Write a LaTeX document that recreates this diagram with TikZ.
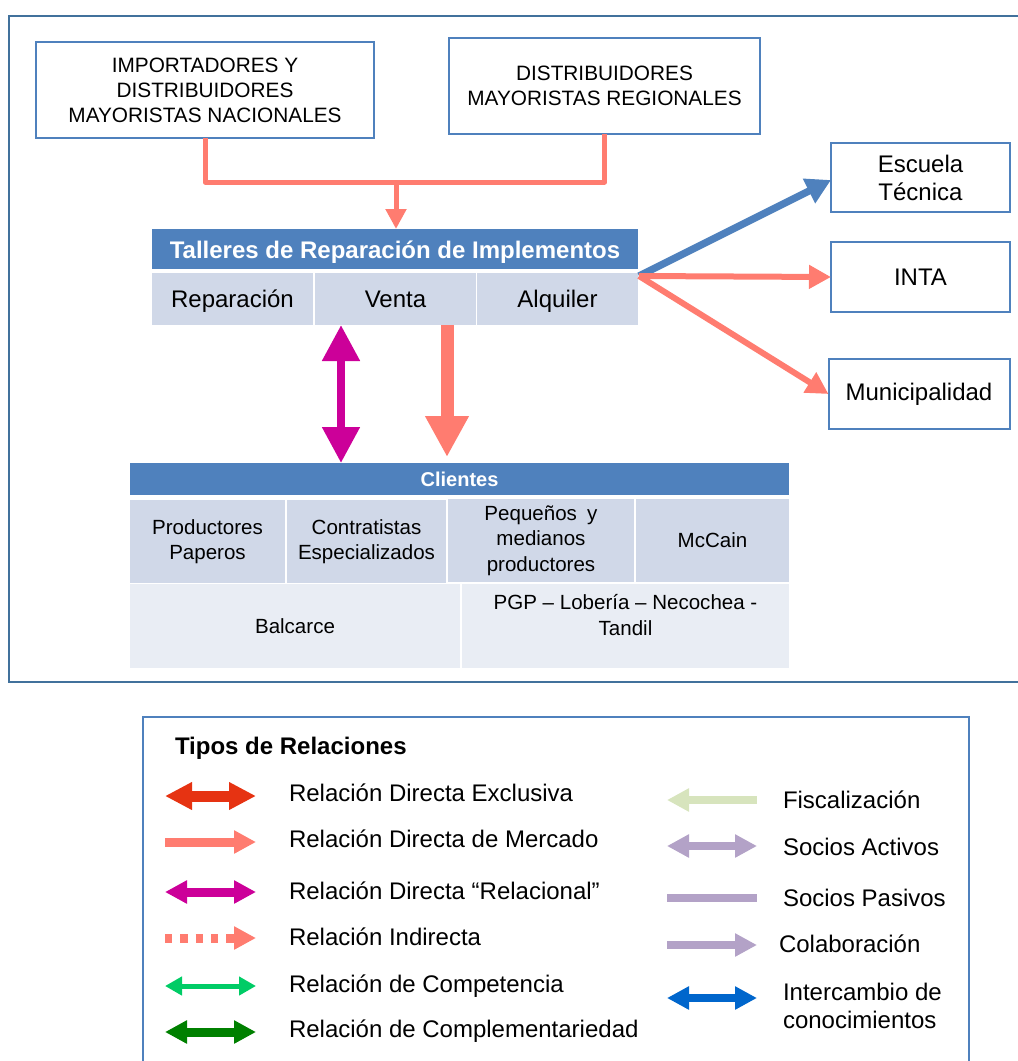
\documentclass[tikz,border=0pt]{standalone}
\usepackage{fontspec}
\setmainfont{Liberation Sans}
\usetikzlibrary{arrows.meta,calc}
\definecolor{ablue}{HTML}{4F81BD}
\definecolor{frameblue}{HTML}{41719C}
\definecolor{salmon}{HTML}{FF7C70}
\definecolor{magen}{HTML}{CC0099}
\definecolor{rowA}{HTML}{D0D8E8}
\definecolor{rowB}{HTML}{E9EDF4}
\definecolor{exred}{HTML}{E63312}
\definecolor{compgreen}{HTML}{00CC66}
\definecolor{darkgreen}{HTML}{008000}
\definecolor{fisgreen}{HTML}{D7E4BD}
\definecolor{lilac}{HTML}{B3A2C7}
\definecolor{kblue}{HTML}{0066CC}
\tikzset{
  ltip/.tip={Triangle[length=16.5pt,width=16.5pt]},
  etip/.tip={Triangle[length=20.25pt,width=19.5pt]},
  gtip/.tip={Triangle[length=12.75pt,width=13.5pt]},
  ctip/.tip={Triangle[length=15pt,width=15pt]},
  ftip/.tip={Triangle[length=16.5pt,width=17pt]},
  fbtip/.tip={Triangle[length=18.5pt,width=19.5pt]},
  mtip/.tip={Triangle[length=27pt,width=27pt]},
  btip/.tip={Triangle[length=30.75pt,width=30.75pt]},
}
\begin{document}
\begin{tikzpicture}[x=0.75pt,y=-0.75pt,
  every node/.style={inner sep=0pt, outer sep=0pt},
  obox/.style={draw=ablue, line width=1.5pt, fill=white, align=center, font=\fontsize{15.6}{18.75}\selectfont},
  rbox/.style={draw=ablue, line width=1.5pt, fill=white, align=center, font=\fontsize{18}{21}\selectfont},
  headbar/.style={fill=ablue, text=white, font=\bfseries\fontsize{18}{21}\selectfont, text height=15pt, text depth=1.5pt},
  cheadbar/.style={fill=ablue, text=white, font=\bfseries\fontsize{15}{18}\selectfont},
  tcell/.style={fill=rowA, align=center, font=\fontsize{18}{21}\selectfont, minimum width=120.75pt, minimum height=39pt, text height=15pt, text depth=3pt},
  ccell/.style={fill=rowA, align=center, font=\fontsize{15.4}{19.1}\selectfont, minimum height=62.25pt},
  dcell/.style={fill=rowB, align=center, font=\fontsize{15.4}{19.1}\selectfont, minimum height=63pt},
  ltext/.style={anchor=base west, font=\fontsize{18}{21}\selectfont, align=left},
  conn/.style={draw=salmon, line width=3.75pt, line join=round},
  connarrow/.style={draw=salmon, line width=3.75pt, -{ctip}},
  fanblue/.style={draw=ablue, line width=5.5pt, -{fbtip}},
  fansal/.style={draw=salmon, line width=4.5pt, -{ftip}},
  magarrow/.style={draw=magen, line width=6pt, {mtip}-{mtip}},
  bigsal/.style={draw=salmon, line width=9.75pt, -{btip}},
]
\useasboundingbox (0,0) rectangle (1018,1061);
\clip (0,0) rectangle (1018,1061);

% outer frame
\draw[frameblue, line width=1.9pt] (9,16) rectangle (1040,682);

% top boxes
\node[obox, minimum width=253.5pt, minimum height=72pt] (imp) at (205,90)
  {IMPORTADORES Y\\DISTRIBUIDORES\\MAYORISTAS NACIONALES};
\node[obox, minimum width=233.25pt, minimum height=72pt] (dist) at (604.5,86)
  {DISTRIBUIDORES\\MAYORISTAS REGIONALES};

% Talleres table
\node[headbar, minimum width=364.5pt, minimum height=30pt] (tal) at (395,249)
  {Talleres de Reparación de Implementos};
\node[tcell] (rep) at (232.5,299) {Reparación};
\node[tcell] (ven) at (395.5,299) {Venta};
\node[tcell] (alq) at (557.5,299) {Alquiler};

% right boxes
\node[rbox, minimum width=134.25pt, minimum height=51.75pt] (esc) at (920.5,177.5) {Escuela\\Técnica};
\node[rbox, minimum width=134.25pt, minimum height=52.5pt] (inta) at (920.5,277) {INTA};
\node[rbox, minimum width=135.75pt, minimum height=52.5pt] (muni) at (919,394) {Municipalidad};

% Clientes table
\node[cheadbar, minimum width=494.25pt, minimum height=24pt] (cli) at (459.5,479) {Clientes};
\node[ccell, minimum width=116.25pt] (c1) at (207.5,541.5) {Productores\\Paperos};
\node[ccell, minimum width=119.25pt] (c2) at (366.5,541.5) {Contratistas\\Especializados};
\node[ccell, minimum width=139.5pt] (c3) at (541,540.5) {Pequeños\enspace y\\medianos\\productores};
\node[ccell, minimum width=114.75pt] (c4) at (712.5,540.5) {McCain};
\node[dcell, minimum width=247.5pt] (r1) at (295,626) {Balcarce};
\node[dcell, minimum width=245.25pt] (r2) at (625.5,626) {};
\node[align=center, font=\fontsize{15.4}{19.1}\selectfont] (r2t) at (625.5,615) {PGP – Lobería – Necochea -\\Tandil};

% top connector
\coordinate (j) at (396,182);
\draw[conn] (imp.south) -- ++(0,44) -| (dist.south);
\draw[connarrow] (j) -- (j |- tal.north);

% fan arrows
\coordinate (fan) at ($(alq.north east)+(1,3)$);
\draw[fanblue] (fan) -- ($(esc.west)+(0,2.5)$);
\draw[fansal] (fan) -- (inta.west);
\draw[fansal] (fan) -- (muni.west);

% vertical arrows
\coordinate (xm) at (341,0);
\coordinate (xs) at (447,0);
\draw[magarrow] (ven.south -| xm) -- (cli.north -| xm);
\draw[bigsal] (ven.south -| xs) -- ($(cli.north -| xs)+(0,-6)$);

% legend box
\draw[ablue, line width=1.5pt] (143,717) rectangle (969,1080);
\node[anchor=base west, font=\bfseries\fontsize{18}{21}\selectfont] (ltitle) at (175,754) {Tipos de Relaciones};

% legend left column
\coordinate (a1) at (165,796); \coordinate (b1) at (256,796);
\coordinate (a2) at (165,842); \coordinate (b2) at (256,842);
\coordinate (a3) at (165,892); \coordinate (b3) at (256,892);
\coordinate (a4) at (165,938); \coordinate (b4) at (256,938);
\coordinate (a5) at (165,986); \coordinate (b5) at (256,986);
\coordinate (a6) at (165,1032); \coordinate (b6) at (256,1032);
\draw[exred, line width=8.25pt, {etip}-{etip}] (a1) -- (b1);
\draw[salmon, line width=6.75pt, -{ltip}] (a2) -- (b2);
\draw[magen, line width=6.75pt, {ltip}-{ltip}] (a3) -- (b3);
\draw[salmon, line width=6.75pt, dash pattern=on 5.5pt off 6pt, -{ltip}] (a4) -- (b4);
\draw[compgreen, line width=3.75pt, {gtip}-{gtip}] (a5) -- (b5);
\draw[darkgreen, line width=6.75pt, {ltip}-{ltip}] (a6) -- (b6);

\node[ltext] (t1) at (289,801) {Relación Directa Exclusiva};
\node[ltext] (t2) at (289,847) {Relación Directa de Mercado};
\node[ltext] (t3) at (289,899) {Relación Directa “Relacional”};
\node[ltext] (t4) at (289,945) {Relación Indirecta};
\node[ltext] (t5) at (289,992) {Relación de Competencia};
\node[ltext] (t6) at (289,1037) {Relación de Complementariedad};

% legend right column
\coordinate (p1) at (667,800); \coordinate (q1) at (757,800);
\coordinate (p2) at (667,846); \coordinate (q2) at (757,846);
\coordinate (p3) at (667,898); \coordinate (q3) at (757,898);
\coordinate (p4) at (667,945); \coordinate (q4) at (757,945);
\coordinate (p5) at (667,998); \coordinate (q5) at (757,998);
\draw[fisgreen, line width=6pt, {ltip}-] (p1) -- (q1);
\draw[lilac, line width=6pt, {ltip}-{ltip}] (p2) -- (q2);
\draw[lilac, line width=6pt] (p3) -- (q3);
\draw[lilac, line width=6pt, -{ltip}] (p4) -- (q4);
\draw[kblue, line width=6pt, {ltip}-{ltip}] (p5) -- (q5);

\node[ltext] (s1) at (783,808) {Fiscalización};
\node[ltext] (s2) at (783,855) {Socios Activos};
\node[ltext] (s3) at (783,906) {Socios Pasivos};
\node[ltext] (s4) at (779,952.5) {Colaboración};
\node[ltext] (s5) at (783,1028) {Intercambio de\\conocimientos};
\end{tikzpicture}
\end{document}
